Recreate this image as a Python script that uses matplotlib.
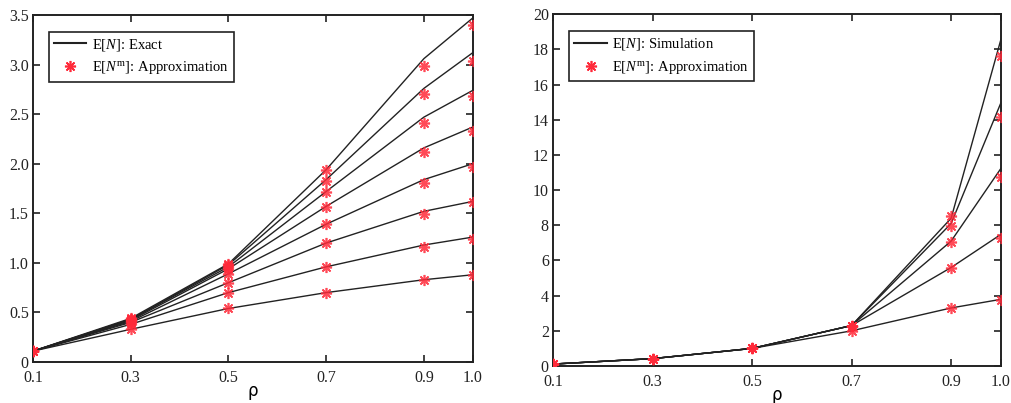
import matplotlib
matplotlib.use("Agg")
import matplotlib.pyplot as plt
from matplotlib.lines import Line2D

plt.rcParams['font.family'] = ['Liberation Serif', 'DejaVu Serif']
plt.rcParams['mathtext.fontset'] = 'custom'
plt.rcParams['mathtext.rm'] = 'Liberation Serif'
plt.rcParams['mathtext.it'] = 'Liberation Serif:italic'

rho = [0.1, 0.3, 0.5, 0.7, 0.9, 1.0]

# left panel: exact values, one list per curve (top to bottom)
exact = [
    [0.11, 0.44, 0.99, 1.94, 3.06, 3.47],
    [0.11, 0.43, 0.98, 1.84, 2.76, 3.12],
    [0.11, 0.43, 0.96, 1.72, 2.47, 2.74],
    [0.11, 0.42, 0.94, 1.57, 2.16, 2.37],
    [0.11, 0.41, 0.89, 1.39, 1.84, 2.00],
    [0.11, 0.40, 0.80, 1.20, 1.52, 1.62],
    [0.11, 0.38, 0.70, 0.96, 1.18, 1.26],
    [0.11, 0.33, 0.54, 0.70, 0.83, 0.88],
]
approx = [
    [0.11, 0.44, 0.99, 1.94, 2.99, 3.40],
    [0.11, 0.43, 0.98, 1.83, 2.70, 3.04],
    [0.11, 0.43, 0.96, 1.71, 2.41, 2.68],
    [0.11, 0.42, 0.94, 1.56, 2.12, 2.33],
    [0.11, 0.41, 0.89, 1.39, 1.81, 1.97],
    [0.11, 0.40, 0.80, 1.20, 1.49, 1.61],
    [0.11, 0.38, 0.70, 0.96, 1.16, 1.24],
    [0.11, 0.33, 0.54, 0.70, 0.83, 0.88],
]

# right panel: simulation vs approximation
sim = [
    [0.11, 0.42, 1.0, 2.3, 8.4, 18.56],
    [0.11, 0.42, 1.0, 2.3, 8.1, 14.96],
    [0.11, 0.42, 1.0, 2.3, 7.1, 11.23],
    [0.11, 0.42, 1.0, 2.3, 5.6, 7.48],
    [0.11, 0.42, 1.0, 2.0, 3.3, 3.79],
]
sim_approx = [
    [0.11, 0.42, 1.0, 2.3, 8.54, 17.6],
    [0.11, 0.42, 1.0, 2.3, 7.97, 14.17],
    [0.11, 0.42, 1.0, 2.3, 7.06, 10.72],
    [0.11, 0.42, 1.0, 2.3, 5.55, 7.25],
    [0.11, 0.42, 1.0, 2.0, 3.28, 3.75],
]

xticks = [0.1, 0.3, 0.5, 0.7, 0.9, 1.0]
xlabels = ['0.1', '0.3', '0.5', '0.7', '0.9', '1.0']
left_yticks = [0, 0.5, 1.0, 1.5, 2.0, 2.5, 3.0, 3.5]
left_ylabels = ['0', '0.5', '1.0', '1.5', '2.0', '2.5', '3.0', '3.5']
right_yticks = [0, 2, 4, 6, 8, 10, 12, 14, 16, 18, 20]

red = '#ff2a3a'
star = (8, 2, 0)

fig = plt.figure(figsize=(10.11, 4.03), dpi=100)
ax1 = fig.add_axes([0.0326, 0.1017, 0.435, 0.861])
ax2 = fig.add_axes([0.547, 0.0918, 0.443, 0.873])


def draw(ax, lines, marks, ylim, yticks, ylabels, name):
    for ys in lines:
        ax.plot(rho, ys, color='#222222', lw=1.0, zorder=2)
    for ys in marks:
        ax.plot(rho, ys, ls='none', marker=star, ms=8, mew=1.2,
                color=red, alpha=0.85, zorder=3)
    ax.set_xlim(0.1, 1.0)
    ax.set_ylim(*ylim)
    ax.set_xticks(xticks)
    ax.set_xticklabels(xlabels)
    ax.set_yticks(yticks)
    ax.set_yticklabels(ylabels)
    ax.tick_params(direction='in', top=True, right=True, length=5,
                   width=1.2, labelsize=11.5, colors='#222222', pad=3)
    ax.tick_params(axis='x', pad=6)
    for s in ax.spines.values():
        s.set_linewidth(1.4)
        s.set_color('#222222')
    ax.set_xlabel('ρ', fontsize=12, labelpad=-3, family='DejaVu Sans')
    handles = [
        Line2D([], [], color='#222222', lw=1.5),
        Line2D([], [], ls='none', marker=star, ms=8, mew=1.2, color=red),
    ]
    labels = ['E[$N$]: ' + name, 'E[$N^{\\rm m}$]: Approximation']
    leg = ax.legend(handles, labels, loc='upper left', fontsize=10.5,
                    bbox_to_anchor=(0.03, 0.96), fancybox=False,
                    edgecolor='#222222', framealpha=1, borderpad=0.35,
                    handlelength=2.2, handletextpad=0.4, labelspacing=0.45,
                    borderaxespad=0.2)
    leg.get_frame().set_linewidth(1.2)


draw(ax1, exact, approx, (0, 3.5), left_yticks, left_ylabels, 'Exact')
draw(ax2, sim, sim_approx, (0, 20), right_yticks,
     [str(v) for v in right_yticks], 'Simulation')

fig.savefig('out.png', dpi=100)
